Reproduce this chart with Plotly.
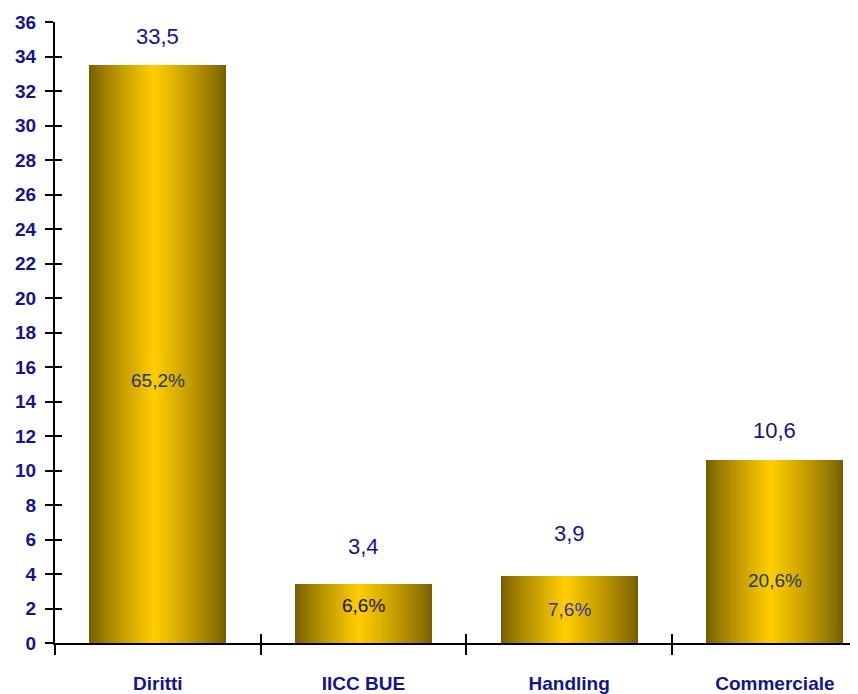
import plotly.graph_objects as go

categories = ["Diritti", "IICC BUE", "Handling", "Commerciale"]
values = [33.5, 3.4, 3.9, 10.6]
value_labels = ["33,5", "3,4", "3,9", "10,6"]
pct_labels = ["65,2%", "6,6%", "7,6%", "20,6%"]
pct_colors = ["#1f3864", "#111111", "#3434a4", "#1f3864"]
pct_label_y = [15.2, 2.15, 1.95, 3.65]
value_label_shift = [29, 38, 42, 30]
y_ticks = list(range(0, 37, 2))

x_pos = list(range(len(categories)))
BAR_W = 0.665
PEAK = 0.47
N = 36
dark = (0x76, 0x5f, 0x00)
bright = (0xff, 0xcc, 0x00)

fig = go.Figure()
for i in range(N):
    t = i / (N - 1)
    tt = t ** 0.85
    col = "rgb(%d,%d,%d)" % tuple(round(d + (b - d) * tt) for d, b in zip(dark, bright))
    off = -BAR_W / 2 + PEAK * BAR_W * i / N
    w = BAR_W * (1 - i / N)
    fig.add_trace(go.Bar(x=x_pos, y=values, width=w, offset=off,
                         marker=dict(color=col, line=dict(width=0)),
                         hoverinfo="skip", showlegend=False))

# invisible traces to host overlay axes
fig.add_trace(go.Scatter(x=[0], y=[0], xaxis="x2", yaxis="y2", mode="markers",
                         marker=dict(opacity=0), showlegend=False, hoverinfo="skip"))
fig.add_trace(go.Scatter(x=[0], y=[0], xaxis="x3", yaxis="y", mode="markers",
                         marker=dict(opacity=0), showlegend=False, hoverinfo="skip"))

for xi, v, lab, sh in zip(x_pos, values, value_labels, value_label_shift):
    fig.add_annotation(x=xi, y=v, text=lab, showarrow=False, yshift=sh,
                       font=dict(family="Liberation Sans, Arial", size=22, color="#14148c"))
for xi, py, lab, c in zip(x_pos, pct_label_y, pct_labels, pct_colors):
    fig.add_annotation(x=xi, y=py, text=lab, showarrow=False,
                       font=dict(family="Liberation Sans, Arial", size=19, color=c))

xr = [-0.5, 3.443]
bounds = [-0.5, 0.5, 1.5, 2.5]
fig.update_layout(
    width=858, height=694,
    margin=dict(l=47, r=0, t=14, b=59),
    paper_bgcolor="white", plot_bgcolor="white",
    barmode="overlay", bargap=0,
    xaxis=dict(range=xr, tickmode="array", tickvals=bounds, ticktext=["", "", "", ""],
               ticks="outside", ticklen=10, tickwidth=2, tickcolor="black", automargin=False,
               showline=True, linecolor="black", linewidth=2, showgrid=False, zeroline=False),
    xaxis2=dict(range=xr, overlaying="x", anchor="y2", side="bottom", tickmode="array",
                tickvals=bounds, ticktext=["", "", "", ""], ticks="inside", ticklen=9,
                tickwidth=2, tickcolor="black", showline=False, showgrid=False,
                zeroline=False, automargin=False),
    xaxis3=dict(range=xr, overlaying="x", anchor="y", side="bottom", tickmode="array",
                tickvals=x_pos, ticktext=categories, ticks="", ticklabelstandoff=27,
                tickfont=dict(family="Liberation Sans, Arial", size=19, color="#14148c", weight="bold"),
                showline=False, showgrid=False, zeroline=False, automargin=False),
    yaxis=dict(range=[0, 36], tickmode="array", tickvals=y_ticks, ticks="outside",
               ticklen=8, tickwidth=2, tickcolor="black", ticklabelstandoff=5, automargin=False,
               tickfont=dict(family="Liberation Sans, Arial", size=19, color="#14148c", weight="bold"),
               showline=True, linecolor="black", linewidth=2, showgrid=False, zeroline=False),
    yaxis2=dict(range=[0, 36], overlaying="y", anchor="x2", side="left", tickmode="array",
                tickvals=y_ticks, ticks="inside", ticklen=7, tickwidth=2, tickcolor="black",
                showticklabels=False, showline=False, showgrid=False, zeroline=False,
                automargin=False),
)

fig.write_html("out.html")
